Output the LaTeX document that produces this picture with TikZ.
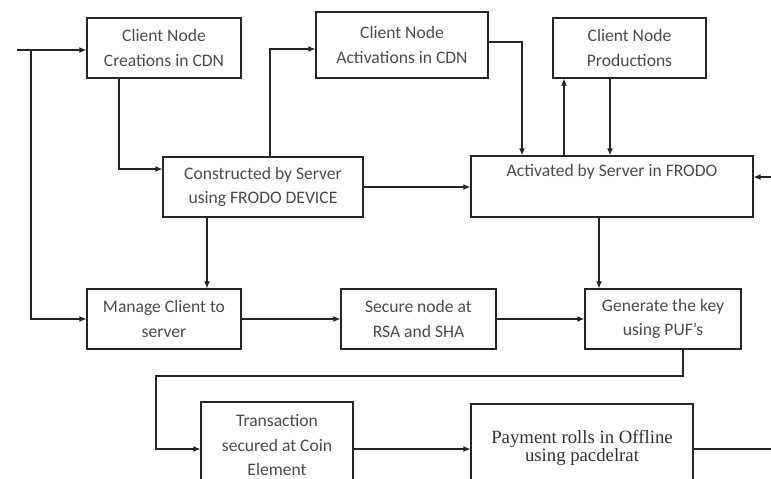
\documentclass[tikz,border=0pt]{standalone}
\usepackage{fontspec}
\setmainfont{Carlito}
\newfontfamily\paysf{Liberation Serif}
\usepackage{tikz}
\usetikzlibrary{arrows.meta,positioning,calc}

\begin{document}
\begin{tikzpicture}[
    x=0.03cm, y=-0.03cm,
    box/.style={rectangle, draw=black!85, line width=1pt, inner sep=0pt, align=center, text=black!70, font=\fontsize{15}{21}\selectfont},
    tallbox/.style={box, font=\paysf\fontsize{16}{13}\selectfont, text=black!80},
    arr/.style={-{Latex[length=6pt,width=5pt]}, line width=1pt, color=black!85},
    line/.style={line width=1pt, color=black!85}
]
    \useasboundingbox (0,0) rectangle (771,479);
    \clip (0,0) rectangle (771,479);

    % Row 1 — client node boxes
    \node[box, minimum width=4.62cm, minimum height=1.8cm]  (creat)  at (164,48)    {Client Node\\Creations in CDN};
    \node[box, minimum width=5.16cm, minimum height=1.98cm] (activ)  at (402,45)    {Client Node\\Activations in CDN};
    \node[box, minimum width=4.59cm, minimum height=1.8cm]  (prod)   at (629.5,48)  {Client Node\\Productions};

    % Row 2 — server boxes
    \node[box, minimum width=6cm,    minimum height=1.8cm]  (constr) at (263,187)   {Constructed by Server\\using FRODO DEVICE};
    \node[box, minimum width=8.46cm, minimum height=1.83cm] (actsrv) at (612,186.5) {Activated by Server in FRODO\\ \strut};

    % Row 3
    \node[box, minimum width=4.62cm, minimum height=1.8cm]  (manage) at (164,319)   {Manage Client to\\server};
    \node[box, minimum width=4.65cm, minimum height=1.8cm]  (secure) at (418.5,319) {Secure node at\\RSA and SHA};
    \node[box, minimum width=4.68cm, minimum height=1.8cm]  (genkey) at (663,319)   {Generate the key\\using PUF's};

    % Row 4 — cut at the bottom edge
    \node[box, minimum width=4.56cm, minimum height=2.58cm] (trans)  at (277,445)   {Transaction\\secured at Coin\\Element};
    \node[tallbox, minimum width=6.66cm, minimum height=2.64cm] (pay) at (582,448)  {Payment rolls in Offline\\using pacdelrat};

    % Free ends
    \coordinate (in)    at (17,50);
    \coordinate (split) at (31,50);
    \coordinate (back)  at (771,177);
    \coordinate (turn)  at (156,376);
    \coordinate (out)   at (771,449);

    % Entry and left feed
    \draw[arr] (in) -- (in -| creat.west);
    \draw[arr] (split) |- (manage.west);

    % Row 1 <-> row 2
    \draw[arr] ([xshift=-1.35cm]creat.south) |- ([yshift=0.54cm]constr.west);
    \draw[arr] ([xshift=0.21cm]constr.north) |- ([yshift=-0.12cm]activ.west);
    \draw[arr] (constr.east) -- (constr.east -| actsrv.west);
    \draw[arr] ([yshift=0.09cm]activ.east) -| ([xshift=-2.7cm]actsrv.north);
    \draw[arr] ([xshift=-1.44cm]actsrv.north) -- ([xshift=-1.44cm]actsrv.north |- prod.south);
    \draw[arr] ([xshift=-0.585cm]prod.south) -- ([xshift=-0.585cm]prod.south |- actsrv.north);
    \draw[arr] (back) -- (back -| actsrv.east);

    % Row 2 -> row 3
    \draw[arr] ([xshift=-1.68cm]constr.south) -- ([xshift=-1.68cm]constr.south |- manage.north);
    \draw[arr] ([xshift=-0.39cm]actsrv.south) -- ([xshift=-0.39cm]actsrv.south |- genkey.north);
    \draw[arr] (manage.east) -- (secure.west);
    \draw[arr] (secure.east) -- (genkey.west);

    % Row 3 -> row 4
    \draw[arr] ([xshift=0.6cm]genkey.south) |- (turn) |- (turn |- out) -- (turn |- out -| trans.west);
    \draw[arr] (trans.east |- out) -- (pay.west |- out);
    \draw[line] (pay.east |- out) -- (out);
\end{tikzpicture}
\end{document}
